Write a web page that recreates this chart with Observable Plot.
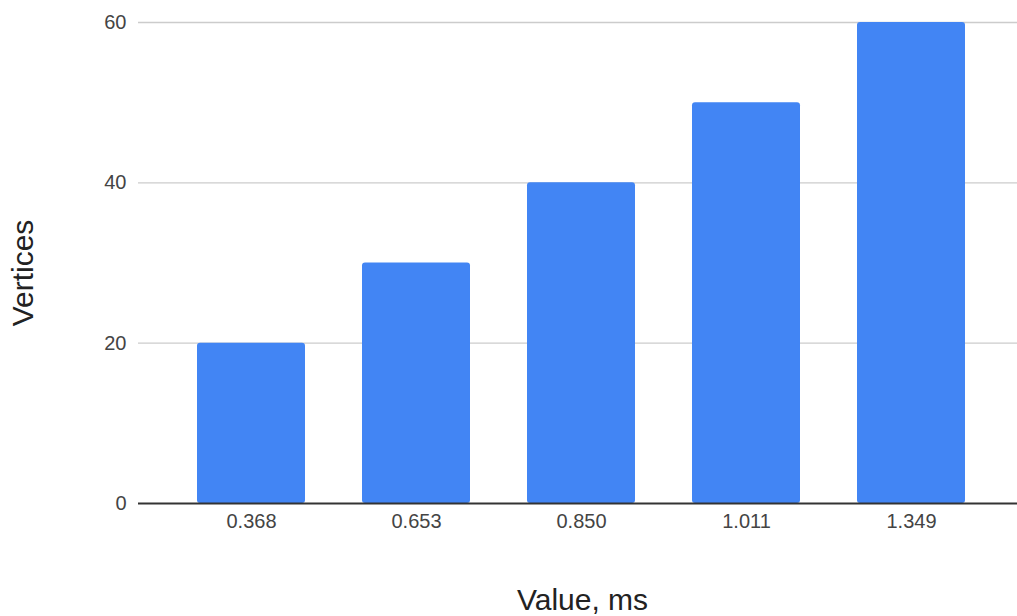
<!DOCTYPE html>
<html>
<head>
<meta charset="utf-8">
<script src="https://cdn.jsdelivr.net/npm/d3@7"></script>
<script src="https://cdn.jsdelivr.net/npm/@observablehq/plot@0.6"></script>
<style>
  html, body { margin: 0; padding: 0; background: #fff; }
</style>
</head>
<body>
<div id="chart"></div>
<script>
const categories = ["0.368", "0.653", "0.850", "1.011", "1.349"];
const vertices = [20, 30, 40, 50, 60];
const yTicks = [0, 20, 40, 60];
const xTitle = "Value, ms";
const yTitle = "Vertices";

const data = categories.map((c, i) => ({category: c, value: vertices[i]}));

const chart = Plot.plot({
  width: 1017,
  height: 616,
  marginLeft: 138,
  marginRight: 0,
  marginTop: 22,
  marginBottom: 113,
  style: {fontFamily: "'Liberation Sans', Arial, sans-serif", background: "#fff"},
  x: {domain: categories, range: [139, 1024], padding: 0.345, label: null},
  y: {domain: [0, 60], ticks: yTicks, label: null},
  marks: [
    Plot.ruleY(yTicks.filter(d => d > 0), {stroke: "#cccccc", strokeWidth: 1.3}),
    Plot.barY(data, {x: "category", y: "value", fill: "#4285f4", rx: 3}),
    Plot.ruleY([0], {stroke: "#333333", strokeWidth: 2}),
    Plot.axisX({tickSize: 0, tickPadding: 10, fontSize: 20, color: "#444444", label: null}),
    Plot.axisY({ticks: yTicks, tickSize: 0, tickPadding: 12, fontSize: 20, color: "#444444", label: null}),
    Plot.text([yTitle], {frameAnchor: "left", textAnchor: "middle", lineAnchor: "middle", dx: -115, dy: 10, rotate: -90, fontSize: 30, fill: "#222222"}),
    Plot.text([xTitle], {frameAnchor: "bottom", textAnchor: "middle", lineAnchor: "middle", dx: 4.5, dy: 97, fontSize: 30, fill: "#222222"})
  ]
});
document.getElementById("chart").appendChild(chart);
</script>
</body>
</html>
